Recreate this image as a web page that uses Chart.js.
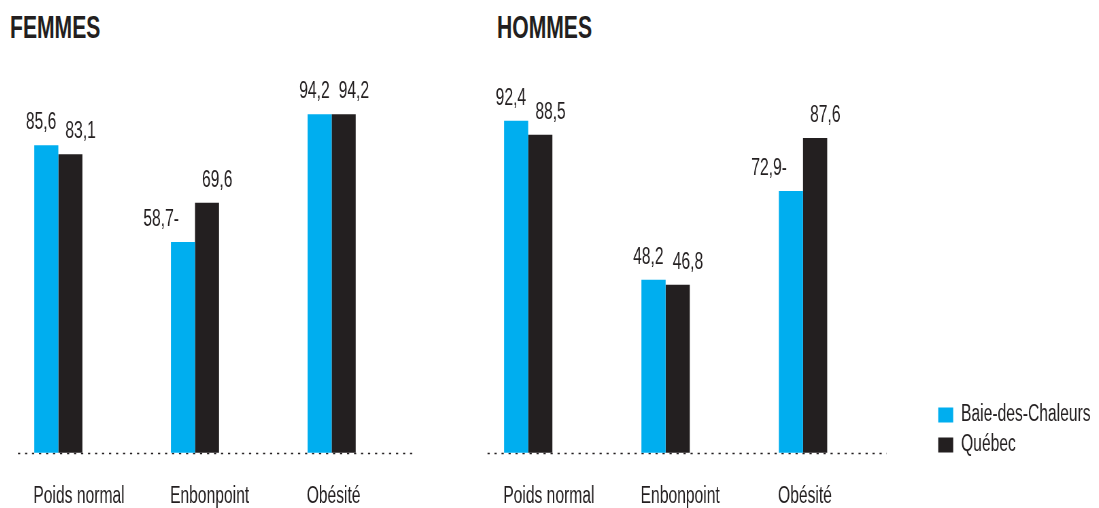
<!DOCTYPE html>
<html><head><meta charset="utf-8">
<script src="https://cdn.jsdelivr.net/npm/chart.js@4.4.1/dist/chart.umd.min.js"></script>
<style>
html,body{margin:0;padding:0;background:#fff;width:1099px;height:508px;overflow:hidden;position:relative;}
.title{position:absolute;top:11px;font-family:"Liberation Sans",Arial,sans-serif;font-weight:bold;font-size:32px;color:#231f20;transform:scaleX(0.66);transform-origin:0 0;white-space:nowrap;line-height:1;}
.box{position:absolute;top:0;height:521px;transform:scaleX(0.68);transform-origin:0 0;}
</style></head><body>
<div class="title" style="left:10px">FEMMES</div>
<div class="title" style="left:497px">HOMMES</div>
<div class="box" style="left:-10px;width:647px"><canvas id="cF"></canvas></div>
<div class="box" style="left:440px;width:958px"><canvas id="cH"></canvas></div>
<script>
const categories = ['Poids normal', 'Enbonpoint', 'Obésité'];
const seriesNames = ['Baie-des-Chaleurs', 'Québec'];
const femmesBaie = [85.6, 58.7, 94.2];
const femmesQuebec = [83.1, 69.6, 94.2];
const hommesBaie = [92.4, 48.2, 72.9];
const hommesQuebec = [88.5, 46.8, 87.6];
const femmesBaieFlags = ['', '-', ''];
const femmesQuebecFlags = ['', '', ''];
const hommesBaieFlags = ['', '', '-'];
const hommesQuebecFlags = ['', '', ''];
const yMin = -2.94, yMax = 100;

const S = 0.68; // horizontal condensation applied to each canvas (CSS scaleX)
const FONT = '"Liberation Sans", Arial, sans-serif';
const TEXT = '#231f20';
const BLUE = '#00aeef';
const DARK = '#231f20';

const dottedBase = {
  id: 'dottedBase',
  beforeDatasetsDraw(chart) {
    const {ctx, chartArea, scales} = chart;
    const yy = Math.round(scales.y.getPixelForValue(0)) + 0.5;
    ctx.save();
    ctx.strokeStyle = TEXT; ctx.lineWidth = 1.4; ctx.setLineDash([2.2 / S, 4.8 / S]);
    ctx.beginPath(); ctx.moveTo(chartArea.left + 28 / S, yy); ctx.lineTo(chartArea.right + 15 / S, yy); ctx.stroke();
    ctx.restore();
  }
};

const valueLabels = {
  id: 'valueLabels',
  afterDatasetsDraw(chart, args, opts) {
    const ctx = chart.ctx;
    ctx.save();
    ctx.font = '23px ' + FONT;
    ctx.fillStyle = TEXT;
    ctx.textBaseline = 'alphabetic';
    chart.data.datasets.forEach((ds, di) => {
      const meta = chart.getDatasetMeta(di);
      meta.data.forEach((bar, i) => {
        const flag = opts.flags[di][i];
        const txt = ds.data[i].toFixed(1).replace('.', ',') + flag;
        let x;
        if (di === 0) { ctx.textAlign = 'right'; x = flag ? bar.x - 4 / S : bar.x + 10 / S; }
        else { ctx.textAlign = 'left'; x = bar.x - 5 / S; }
        ctx.fillText(txt, x, bar.y - 16);
      });
    });
    ctx.restore();
  }
};

function makeChart(id, baie, quebec, flagsB, flagsQ, isRight) {
  return new Chart(document.getElementById(id), {
    type: 'bar',
    data: {
      labels: categories,
      datasets: [
        {label: seriesNames[0], data: baie, backgroundColor: BLUE, borderWidth: 0, categoryPercentage: 0.352, barPercentage: 1},
        {label: seriesNames[1], data: quebec, backgroundColor: DARK, borderWidth: 0, categoryPercentage: 0.352, barPercentage: 1}
      ]
    },
    options: {
      responsive: true, maintainAspectRatio: false, animation: false,
      layout: {padding: isRight ? {top: 93.5, left: 19.5 / S, right: 0, bottom: 0} : {top: 93.5, left: 0, right: 30 / S, bottom: 0}},
      scales: {
        x: {
          grid: {display: false}, border: {display: false},
          ticks: {align: 'start', labelOffset: -25 / S, padding: 11, color: TEXT, font: {family: FONT, size: 23}, maxRotation: 0, autoSkip: false}
        },
        y: {
          min: yMin, max: yMax, display: isRight, position: 'right',
          grid: {display: false}, border: {display: false}, ticks: {display: false},
          afterFit(s) { if (isRight) s.width = 90.8; }
        }
      },
      plugins: {
        legend: isRight ? {
          display: true, position: 'right', align: 'end', fullSize: false,
          labels: {boxWidth: 15 / S, boxHeight: 15, padding: 7, color: TEXT, font: {family: FONT, size: 23}}
        } : {display: false},
        tooltip: {enabled: false},
        valueLabels: {flags: [flagsB, flagsQ]}
      }
    },
    plugins: [dottedBase, valueLabels]
  });
}

makeChart('cF', femmesBaie, femmesQuebec, femmesBaieFlags, femmesQuebecFlags, false);
makeChart('cH', hommesBaie, hommesQuebec, hommesBaieFlags, hommesQuebecFlags, true);
</script>
</body></html>
